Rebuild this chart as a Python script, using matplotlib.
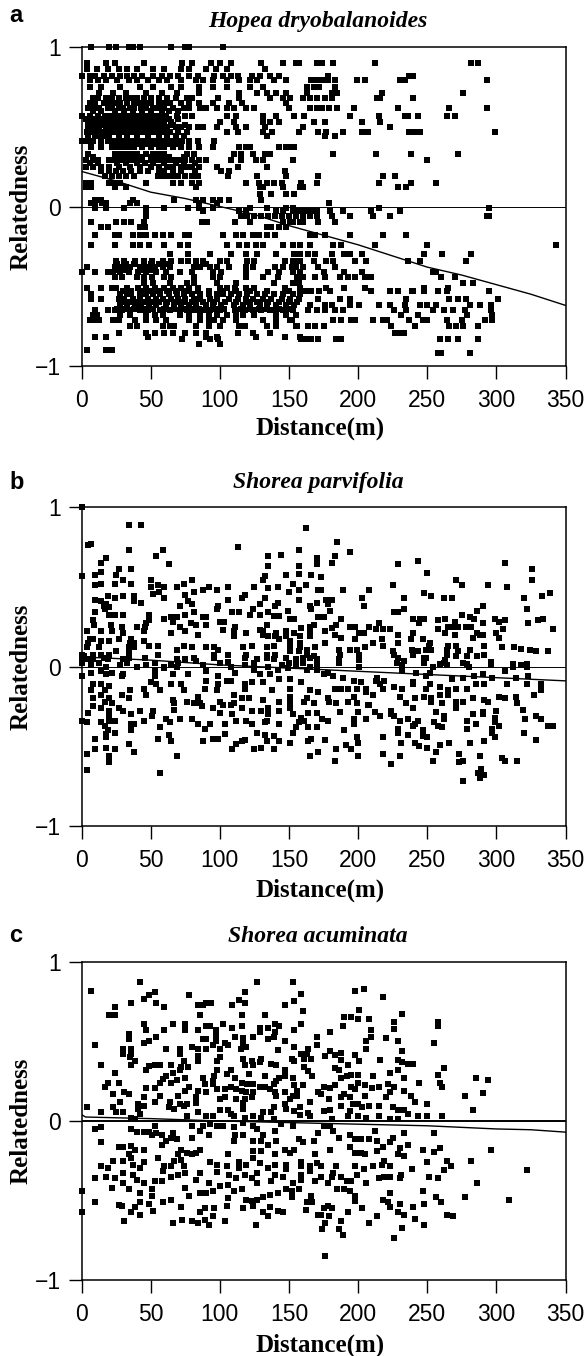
import numpy as np
import matplotlib
matplotlib.use('Agg')
from matplotlib import pyplot as plt

TITLES = ['Hopea dryobalanoides', 'Shorea parvifolia', 'Shorea acuminata']
LETTERS = ['a', 'b', 'c']
X_TICKS = [0, 50, 100, 150, 200, 250, 300, 350]
Y_TICKS = [-1, 0, 1]
Y_TICK_LABELS = ['\u22121', '0', '1']

FIT_X_A = [0, 25, 50, 75, 100, 125, 150, 175, 200, 225, 250, 275, 300, 325, 350]
FIT_Y_A = [.22, .16, .09, .05, .0, -.05, -.12, -.18, -.24, -.31, -.38, -.43, -.49, -.55, -.62]
FIT_X_B = [0, 50, 100, 150, 200, 250, 300, 350]
FIT_Y_B = [.06, .04, .01, -.01, -.03, -.05, -.07, -.09]
FIT_X_C = [0, 3, 50, 100, 150, 200, 250, 300, 325, 350]
FIT_Y_C = [.04, .025, .015, 0, -.01, -.02, -.03, -.05, -.055, -.07]

a_upper = [
    (1.0, [7, 20, 25, 34, 37, 42, 65, 75, 78, 102]),
    (.9, [4, 18, 24, 45, 73, 80, 94, 100, 108, 130, 146, 155, 157, 170, 174, 182, 212, 282, 287]),
    (.86, [4, 11, 19, 27, 33, 40, 52, 60, 72, 78, 90, 97, 105, 133]),
    (.82, [0, 6, 10, 16, 22, 28, 33, 38, 44, 52, 58, 64, 70, 78, 84, 96, 102, 108, 113, 123, 129, 136, 143, 178, 237, 240]),
    (.79, [6, 12, 18, 26, 34, 40, 48, 56, 62, 72, 83, 88, 95, 105, 114, 122, 127, 139, 148, 166, 170, 174, 178, 183, 199, 205, 230, 234, 293]),
    (.75, [6, 14, 28, 42, 52, 65, 72, 85, 95, 105, 122, 131, 163, 168, 172, 183]),
    (.71, [13, 23, 32, 47, 58, 69, 85, 114, 127, 134, 141, 148, 163, 181, 185, 217, 276]),
    (.68, [8, 12, 18, 22, 27, 32, 36, 40, 45, 50, 56, 62, 68, 76, 80, 99, 114, 136, 146, 151, 160, 165, 170, 176, 181, 214, 216, 240]),
    (.65, [6, 10, 16, 20, 24, 28, 33, 38, 42, 46, 50, 56, 60, 64, 72, 78, 85, 95, 107, 116, 148]),
    (.62, [5, 9, 13, 19, 22, 27, 30, 35, 38, 43, 47, 52, 55, 60, 66, 74, 78, 86, 90, 98, 105, 110, 119, 125, 150, 165, 170, 174, 179, 185, 197, 229, 266, 293]),
    (.6, [8, 14, 24, 31, 37, 44, 50, 58, 63, 70]),
    (.57, [0, 6, 12, 17, 21, 25, 29, 33, 37, 41, 45, 49, 53, 57, 61, 69, 75, 80, 105, 112, 131, 141, 154, 161, 194, 215, 234, 236, 243, 264, 270]),
    (.55, [3, 8, 14, 21, 25, 29, 33, 37, 41, 45, 49, 54, 58, 63, 70]),
    (.53, [5, 10, 15, 19, 23, 27, 31, 35, 39, 43, 47, 51, 56, 60, 65, 100, 110, 131, 136, 143, 168, 176, 203, 216]),
    (.51, [7, 12, 17, 21, 25, 29, 33, 37, 41, 45, 49, 53, 57, 66, 75]),
    (.5, [5, 9, 13, 18, 22, 26, 30, 34, 38, 42, 46, 50, 54, 58, 62, 68, 72, 78, 84, 88, 98, 112, 119, 133, 160, 223]),
    (.47, [4, 8, 12, 16, 20, 24, 28, 32, 36, 40, 44, 48, 52, 56, 60, 64, 70, 76, 105, 113, 131, 138, 157, 171, 177, 189, 203, 207, 237, 241, 245, 299]),
    (.44, [5, 10, 14, 18, 20, 27, 33, 40, 48, 56, 62, 68, 74, 134, 176, 183]),
    (.41, [0, 4, 8, 14, 19, 22, 26, 30, 34, 38, 42, 46, 50, 54, 58, 62, 66, 70, 73, 78, 84, 96]),
    (.39, [22, 28, 32, 36, 40, 48, 52, 58, 64, 70]),
    (.37, [7, 14, 22, 26, 30, 34, 38, 44, 50, 56, 60, 66, 72, 78, 85, 95, 114, 119, 122, 143, 148, 152, 154]),
    (.33, [5, 24, 28, 32, 36, 40, 47, 52, 56, 60, 76, 81, 110, 115, 124, 133, 136, 182, 213, 238, 272]),
    (.31, [8, 26, 34, 44, 50, 58, 63, 74]),
    (.29, [3, 8, 12, 20, 24, 30, 34, 38, 42, 50, 54, 58, 62, 66, 70, 75, 80, 85, 90, 108, 115, 126, 131, 153, 250]),
    (.27, [6, 12, 26, 32, 40, 46, 52, 60, 68, 74, 82]),
    (.25, [3, 8, 14, 20, 27, 35, 42, 50, 56, 62, 66, 72, 76, 80, 85, 98, 113, 134]),
    (.22, [14, 20, 25, 30, 36, 42, 48, 56, 60, 66, 72, 82, 101, 107, 147]),
    (.19, [17, 22, 27, 32, 38, 55, 58, 62, 66, 70, 75, 80, 84, 106, 127, 148, 171, 218, 227]),
    (.15, [3, 7, 20, 24, 28, 47, 66, 72, 80, 85, 119, 128, 134, 139, 145, 159, 170, 215, 238, 256]),
    (.12, [3, 7, 24, 32, 83, 129, 131, 146, 158, 160, 229, 235]),
    (.08, [129, 137, 148, 154]),
    (.04, [10, 13, 14, 37, 67, 83, 88, 95, 100, 107, 130]),
    (.02, [7, 10, 15, 18, 35, 40, 85, 98, 179]),
]
a_middle = [
    (-.01, [10, 18, 31, 47, 60, 77, 85, 95, 122, 134, 148, 153, 215, 295]),
    (-.03, [47, 88, 114, 119, 141, 146, 153, 157, 160, 163, 166, 170, 180, 189, 209, 230]),
    (-.06, [47, 115, 120, 125, 130, 135, 140, 145, 150, 155, 160, 165, 170, 181, 194, 211, 293, 295, 223]),
    (-.1, [7, 25, 31, 36, 45, 87, 91, 111, 122, 146, 151, 153, 158, 160, 171, 183]),
    (-.13, [19, 14, 42, 46, 134, 137, 143, 148]),
    (-.18, [10, 24, 27, 37, 42, 47, 53, 59, 65, 75, 78, 102, 112, 117, 124, 128, 134, 140, 165, 169, 176, 194, 218, 235]),
    (-.24, [7, 24, 37, 42, 49, 60, 71, 77, 105, 114, 120, 126, 131, 146, 153, 158, 165, 182, 188, 212, 250, 343]),
    (-.3, [64, 77, 93, 108, 119, 127, 141, 154, 158, 156, 164, 169, 181, 190, 194, 203, 248, 261, 282]),
    (-.34, [25, 31, 39, 45, 51, 59, 65, 72, 77, 83, 88, 100, 105, 120, 125, 147, 153, 157, 158, 168, 177, 182, 198, 206, 236, 245, 278]),
    (-.36, [26, 32, 38, 50, 56, 62, 90]),
    (-.38, [4, 24, 29, 35, 42, 47, 53, 59, 64, 81, 86, 93, 98, 107, 119, 124, 140, 146, 155, 152, 160, 171, 183]),
    (-.4, [26, 32, 44, 50]),
    (-.41, [0, 10, 19, 23, 28, 34, 41, 47, 54, 61, 71, 80, 95, 101, 119, 135, 143, 153, 158, 175, 190, 203, 256, 254]),
    (-.44, [24, 29, 40, 45, 51, 60, 65, 81, 95, 100, 119, 131, 142, 156, 160, 169, 176, 187, 193, 198, 205, 209, 270, 260]),
    (-.48, [45, 52, 64, 76, 81, 98, 112, 139, 153, 157, 283, 276]),
]
a_lower = [
    (-.51, [4, 14, 22, 25, 33, 41, 47, 53, 60, 66, 72, 78, 84, 100, 105, 111, 119, 125, 147, 158, 177, 190, 205, 248, 265]),
    (-.53, [30, 36, 44, 50, 56, 62, 68, 76, 84, 92, 102, 112, 122, 134, 150, 162, 166, 172, 180, 209, 223, 229, 240, 248, 258, 295, 239, 264]),
    (-.55, [7, 28, 33, 36, 42, 47, 52, 57, 63, 69, 74, 80, 86, 92, 98, 102, 108, 114, 120, 127, 133, 139, 146, 153, 158]),
    (-.58, [7, 14, 27, 31, 37, 42, 48, 54, 59, 65, 70, 75, 81, 86, 93, 98, 107, 113, 119, 124, 131, 137, 145, 151, 157, 171, 187, 194, 235, 266, 272, 278, 301]),
    (-.6, [30, 35, 40, 45, 50, 56, 62, 68, 74, 80, 88, 96, 104, 112, 120, 127, 135, 143, 150, 156]),
    (-.62, [28, 33, 39, 43, 49, 54, 61, 67, 72, 78, 83, 90, 95, 101, 110, 117, 122, 129, 134, 141, 148, 154, 165, 176, 181, 194, 201, 215, 223, 234, 245, 250, 256, 281, 288, 296]),
    (-.64, [26, 32, 38, 45, 52, 60, 67, 74, 80, 85, 90, 97, 103, 115, 122, 128, 134, 143, 150]),
    (-.65, [10, 19, 24, 29, 35, 42, 48, 57, 64, 71, 76, 82, 88, 93, 100, 111, 118, 124, 130, 136, 140, 146, 153, 164, 170, 176, 183, 189, 226, 235, 254, 262, 269, 277, 296]),
    (-.68, [8, 11, 28, 35, 47, 53, 59, 71, 78, 86, 92, 98, 105, 112, 117, 125, 141, 148, 155, 243, 231, 279, 297]),
    (-.71, [6, 10, 13, 23, 27, 39, 47, 54, 61, 78, 86, 92, 96, 102, 112, 131, 141, 151, 152, 182, 188, 195, 198, 211, 218, 221, 237, 247, 250, 264, 275, 292, 297]),
    (-.75, [35, 40, 59, 64, 67, 83, 92, 100, 114, 118, 134, 141, 155, 156, 164, 169, 175, 224, 241, 266, 271, 287, 276]),
    (-.79, [27, 47, 53, 60, 66, 75, 83, 90, 113, 124, 136, 227, 229, 233]),
    (-.82, [10, 18, 48, 90, 98, 126, 147, 158]),
    (-.83, [73, 93, 99, 159, 163, 166, 171, 184, 188, 259, 265, 272, 287]),
    (-.86, [85, 100]),
    (-.9, [4, 18, 22]),
    (-.92, [258, 260, 281]),
]

b_upper = [(0, 1.0), (34, .89), (43, .89), (162, .87), (5, .76), (7, .77), (113, .75), (34, .73), (59, .73),
           (157, .73), (54, .69), (144, .70), (135, .69), (18, .68), (14, .65), (63, .64), (135, .63), (170, .68),
           (170, .64), (157, .63), (27, .61), (36, .61), (14, .59), (157, .58), (10, .575), (0, .565), (25, .575),
           (148, .575), (166, .575), (133, .565), (185, .78), (194, .72), (183, .69), (181, .65), (229, .64),
           (243, .66), (306, .65), (326, .61), (250, .585), (173, .56), (326, .54), (271, .54), (10, .51), (14, .52),
           (24, .52), (30, .54), (36, .52), (50, .54), (50, .50), (55, .51), (60, .50), (69, .50), (74, .52), (80, .54),
           (92, .50), (106, .50), (88, .48), (98, .48), (81, .47), (125, .50), (131, .54), (135, .49), (142, .5),
           (153, .52), (162, .51), (171, .48), (157, .48), (150, .47), (225, .51), (275, .51), (294, .51), (308, .5),
           (173, .48), (189, .48), (208, .48), (248, .46), (253, .44), (333, .44), (339, .46), (30, .445), (52, .456),
           (56, .47), (118, .45), (116, .43), (75, .45), (19, .44), (24, .43), (38, .44), (38, .41), (60, .43), (10, .42),
           (43, .40), (133, .43), (106, .42), (77, .41), (157, .42), (170, .40), (177, .42), (181, .42), (203, .43),
           (233, .43), (262, .43), (268, .43), (320, .43), (14, .41), (18, .39), (17, .36), (20, .37), (16, .38), (71, .38),
           (80, .39), (81, .34), (99, .38), (98, .36), (129, .39), (142, .40), (140, .38), (165, .38), (166, .36),
           (124, .36), (178, .39), (204, .38), (290, .38), (322, .36), (233, .36), (226, .34), (229, .34), (286, .35),
           (180, .35), (10, .34), (20, .325), (24, .325), (30, .325), (49, .325), (109, .34), (114, .34), (75, .325),
           (122, .325), (129, .325), (135, .34), (139, .315), (143, .315), (149, .35), (175, .31), (275, .325),
           (281, .31), (284, .30), (8, .29), (9, .26), (60, .3), (65, .31), (69, .31), (66, .28), (88, .31), (90, .31),
           (100, .28), (103, .28), (49, .29), (47, .27), (79, .27), (151, .3), (154, .3), (171, .31), (168, .26),
           (188, .30), (240, .30), (245, .30), (248, .30), (244, .27), (258, .29), (263, .3), (270, .28), (290, .27),
           (299, .3), (302, .28), (306, .29), (323, .27), (330, .29), (334, .3)]
b_middle = [(21, .26), (29, .25), (40, .25), (46, .25), (71, .25), (83, .26), (90, .26), (111, .25), (134, .26), (165, .25),
            (159, .24), (184, .26), (181, .24), (194, .25), (198, .25), (208, .25), (215, .27), (213, .235), (218, .235),
            (223, .235), (258, .235), (265, .25), (269, .25), (272, .25), (278, .25), (282, .25), (305, .235), (341, .235),
            (4, .22), (14, .22), (22, .22), (30, .21), (45, .22), (65, .21), (75, .22), (102, .23), (110, .22), (119, .21),
            (131, .22), (141, .21), (148, .22), (154, .21), (165, .22), (176, .22), (183, .195), (201, .21), (204, .21),
            (229, .195), (240, .21), (263, .21), (270, .195), (286, .21), (300, .21), (84, .195), (110, .19), (129, .23),
            (131, .2), (135, .19), (140, .19), (148, .19), (158, .19), (165, .19), (188, .18), (198, .17), (217, .17),
            (238, .17), (247, .17), (283, .18), (288, .195), (290, .195), (302, .18), (8, .175), (6, .175), (14, .16),
            (5, .145), (20, .16), (27, .17), (36, .175), (45, .16), (35, .15), (38, .15), (143, .175), (151, .16), (158, .15),
            (176, .145), (211, .145), (229, .145), (252, .145), (218, .13), (251, .13), (271, .13), (265, .13), (291, .13),
            (4, .12), (13, .12), (34, .12), (38, .12), (49, .13), (55, .13), (69, .105), (74, .13), (80, .12), (90, .12),
            (96, .12), (99, .105), (117, .12), (123, .13), (134, .12), (139, .13), (151, .12), (158, .12), (163, .105),
            (169, .12), (186, .105), (194, .105), (199, .105), (205, .12), (225, .095), (239, .105), (243, .095), (249, .105),
            (253, .105), (264, .105), (272, .095), (281, .105), (304, .12), (313, .12), (318, .11), (324, .105), (329, .095),
            (337, .095), (0, .075), (2, .065), (8, .075), (14, .075), (20, .075), (25, .095), (34, .085), (55, .07), (96, .075),
            (96, .055), (106, .07), (119, .075), (134, .075), (140, .075), (151, .095), (157, .095), (163, .075), (168, .065),
            (187, .075), (201, .075), (226, .075), (240, .075), (249, .055), (264, .075), (271, .065), (279, .065), (286, .065),
            (291, .07), (0, .045), (5, .045), (8, .05), (16, .055), (19, .045), (30, .045), (34, .055), (46, .055), (69, .045),
            (75, .045), (81, .055), (83, .033), (106, .027), (118, .055), (127, .045), (134, .055), (139, .045), (148, .055),
            (155, .045), (160, .055), (165, .055), (170, .045), (186, .045), (201, .04), (229, .055), (233, .033), (248, .055),
            (263, .04), (296, .027), (312, .017), (322, .017), (279, .017), (259, .017), (0, .02), (7, .01), (13, .02), (18, .0),
            (28, .01), (33, .02), (47, .01), (53, .02), (60, .0), (65, .01), (70, .02), (88, .01), (100, .02), (108, 0), (118, .01),
            (125, .02), (135, .0), (145, .01), (150, .02), (155, .01), (160, .02), (165, .0), (170, .01), (186, .02), (201, .0),
            (228, .02), (232, .01), (248, .02), (254, 0), (262, .02), (264, .01), (276, .02), (280, .0), (296, .01), (312, 0),
            (318, .01), (322, 0)]
b_lower = [(7, -.04), (14, -.03), (18, -.05), (22, -.04), (30, -.05), (40, 0), (53, -.03), (60, -.01), (66, -.05), (69, 0), (77, -.05),
           (90, -.03), (99, -.06), (111, -.04), (125, -.02), (129, -.05), (136, -.05), (142, -.02), (149, -.01), (163, -.02), (170, -.02),
           (175, -.05), (178, -.04), (182, -.06), (189, -.07), (197, -.09), (202, -.1), (214, -.07), (219, -.09), (232, -.02), (240, -.1),
           (242, -.04), (249, -.06), (252, -.04), (268, -.08), (276, -.07), (284, -.06), (290, -.05), (297, -.07), (306, -.03), (314, -.07),
           (323, -.06), (0, -.06), (29, -.06), (53, -.06), (90, -.09), (99, -.11), (105, -.09), (108, -.09), (118, -.11), (123, -.1), (131, -.1),
           (8, -.11), (14, -.11), (20, -.12), (50, -.1), (54, -.11), (65, -.11), (72, -.11), (151, -.08), (143, -.08), (159, -.1), (213, -.09),
           (216, -.11), (240, -.11), (252, -.11), (285, -.11), (291, -.11), (308, -.11), (322, -.11), (332, -.11), (7, -.15), (17, -.15), (35, -.15),
           (45, -.14), (57, -.15), (74, -.15), (89, -.14), (98, -.15), (118, -.14), (138, -.15), (151, -.14), (165, -.15), (171, -.16), (183, -.14),
           (188, -.14), (193, -.14), (199, -.14), (206, -.14), (218, -.14), (226, -.13), (232, -.14), (249, -.14), (259, -.13), (265, -.15), (271, -.14),
           (279, -.14), (332, -.15), (8, -.2), (14, -.18), (20, -.2), (29, -.18), (34, -.2), (47, -.18), (66, -.21), (84, -.19), (110, -.18), (116, -.2),
           (121, -.2), (131, -.21), (151, -.19), (163, -.2), (178, -.2), (197, -.19), (206, -.16), (211, -.18), (230, -.19), (241, -.2), (248, -.19),
           (253, -.2), (259, -.18), (265, -.18), (283, -.2), (302, -.19), (306, -.2), (314, -.19), (327, -.18), (17, -.22), (22, -.23), (67, -.23),
           (76, -.22), (81, -.23), (86, -.23), (100, -.22), (102, -.24), (110, -.23), (143, -.22), (151, -.22), (161, -.22), (168, -.23), (179, -.22),
           (184, -.23), (193, -.22), (199, -.23), (208, -.24), (235, -.23), (253, -.22), (261, -.23), (271, -.22), (276, -.22), (291, -.21), (315, -.23),
           (8, -.25), (14, -.26), (20, -.28), (27, -.26), (30, -.28), (42, -.28), (67, -.27), (87, -.25), (95, -.26), (100, -.29), (108, -.24), (116, -.26),
           (123, -.28), (130, -.28), (135, -.26), (143, -.28), (151, -.26), (164, -.29), (170, -.29), (187, -.285), (200, -.285), (207, -.24), (212, -.285),
           (224, -.28), (240, -.26), (256, -.285), (271, -.26), (290, -.285), (294, -.22), (300, -.28), (319, -.275), (5, -.29), (20, -.31), (36, -.3),
           (52, -.28), (51, -.31), (109, -.3), (135, -.3), (153, -.3), (159, -.32), (174, -.33), (178, -.34), (197, -.33), (206, -.33), (216, -.31), (224, -.3),
           (226, -.31), (230, -.34), (236, -.33), (243, -.34), (262, -.31), (262, -.33), (283, -.3), (290, -.3), (299, -.32), (321, -.33), (329, -.31), (332, -.33),
           (0, -.34), (4, -.35), (14, -.35), (20, -.34), (24, -.34), (45, -.34), (61, -.33), (64, -.35), (71, -.33), (80, -.33), (112, -.34), (119, -.34), (123, -.36),
           (134, -.34), (133, -.35), (143, -.36), (157, -.35), (161, -.34), (197, -.36), (241, -.36), (255, -.35), (258, -.37), (261, -.38), (279, -.34), (285, -.36),
           (299, -.35), (302, -.37), (337, -.37), (341, -.37), (17, -.37), (19, -.4), (36, -.36), (38, -.36), (36, -.4), (57, -.38), (84, -.36), (93, -.36), (89, -.39),
           (104, -.36), (127, -.42), (155, -.38), (153, -.42), (164, -.38), (170, -.38), (190, -.4), (229, -.39), (229, -.42), (240, -.37), (247, -.4), (279, -.39),
           (297, -.39), (297, -.42), (320, -.42), (18, -.425), (18, -.445), (24, -.42), (63, -.43), (65, -.465), (55, -.455), (10, -.455), (88, -.465), (95, -.455),
           (99, -.455), (104, -.425), (118, -.46), (133, -.43), (134, -.465), (139, -.435), (143, -.465), (151, -.48), (164, -.465), (166, -.455), (176, -.46),
           (199, -.445), (218, -.445), (236, -.43), (247, -.435), (250, -.445), (200, -.48), (281, -.48), (291, -.47), (299, -.445), (329, -.46), (34, -.485),
           (112, -.485), (116, -.47), (130, -.51), (125, -.52), (18, -.51), (10, -.52), (24, -.52), (38, -.535), (109, -.52), (139, -.52), (184, -.52), (191, -.495),
           (195, -.52), (231, -.48), (241, -.48), (244, -.5), (250, -.51), (259, -.495), (266, -.48), (256, -.535), (4, -.55), (20, -.56), (20, -.6), (69, -.56),
           (165, -.56), (171, -.535), (183, -.59), (200, -.56), (218, -.55), (230, -.56), (254, -.59), (273, -.55), (273, -.6), (276, -.59), (288, -.56), (304, -.575),
           (306, -.59), (315, -.59), (4, -.65), (57, -.665), (224, -.61), (289, -.64), (287, -.665), (291, -.68), (288, -.7), (276, -.72)]

c_upper = [(7, .82), (42, .875), (127, .875), (153, .875), (53, .81), (49, .79), (45, .77), (78, .795), (118, .81), (159, .8), (36, .74), (54, .74),
           (60, .72), (84, .73), (88, .73), (90, .74), (94, .745), (109, .73), (114, .76), (118, .74), (147, .73), (154, .755), (24, .72), (20, .665), (24, .665),
           (86, .665), (116, .665), (133, .665), (160, .69), (45, .61), (66, .61), (75, .61), (90, .595), (93, .595), (102, .61), (109, .585), (116, .595),
           (129, .585), (135, .585), (140, .61), (143, .595), (159, .61), (47, .575), (75, .575), (60, .575), (84, .575), (97, .57), (129, .56), (140, .56),
           (154, .575), (34, .55), (54, .53), (97, .54), (111, .53), (117, .52), (124, .53), (34, .515), (45, .49), (49, .505), (88, .515), (90, .515), (97, .505),
           (135, .515), (139, .53), (147, .505), (170, .53), (170, .48), (10, .48), (104, .49), (106, .48), (95, .48), (117, .485), (30, .455), (36, .455), (61, .455),
           (71, .455), (80, .465), (84, .455), (90, .455), (100, .455), (115, .455), (119, .465), (142, .445), (154, .465), (164, .455), (30, .42), (36, .42), (71, .42),
           (84, .41), (100, .4), (159, .42), (163, .42), (39, .38), (35, .4), (74, .38), (84, .38), (98, .38), (117, .39), (123, .38), (130, .39), (152, .39), (161, .39),
           (166, .39), (14, .35), (36, .35), (49, .345), (53, .35), (57, .35), (65, .35), (72, .34), (77, .34), (118, .35), (124, .35), (129, .37), (137, .36), (141, .35),
           (161, .34), (154, .38), (198, .82), (204, .83), (218, .78), (201, .7), (232, .675), (190, .655), (195, .655), (200, .64), (208, .64), (226, .62), (226, .58),
           (258, .62), (258, .595), (189, .595), (180, .56), (209, .57), (209, .53), (206, .505), (220, .52), (229, .505), (255, .49), (206, .455), (232, .44), (180, .44),
           (176, .41), (188, .425), (183, .415), (188, .385), (198, .415), (201, .375), (216, .385), (229, .385), (232, .37), (236, .36), (240, .36), (193, .35), (183, .335),
           (186, .32), (262, .335)]
c_middle = [(47, .32), (24, .305), (66, .305), (71, .32), (98, .32), (108, .32), (121, .295), (147, .32), (164, .315), (61, .28), (59, .265), (57, .24), (69, .255), (65, .24),
            (75, .27), (88, .27), (96, .28), (95, .25), (105, .295), (111, .27), (133, .285), (143, .27), (147, .285), (153, .27), (167, .28), (19, .24), (27, .24), (17, .215),
            (89, .23), (95, .23), (116, .24), (120, .23), (124, .23), (129, .215), (133, .215), (139, .23), (141, .25), (154, .225), (160, .225), (47, .205), (53, .205), (23, .17),
            (31, .18), (34, .17), (78, .215), (75, .19), (84, .19), (90, .18), (98, .2), (104, .2), (108, .215), (112, .2), (116, .19), (119, .18), (124, .18), (136, .2), (140, .18),
            (147, .18), (153, .16), (156, .19), (171, .18), (45, .15), (57, .16), (70, .16), (83, .15), (100, .14), (104, .15), (112, .14), (118, .14), (123, .15), (141, .16), (156, .16),
            (151, .14), (28, .12), (41, .11), (53, .12), (64, .12), (71, .105), (76, .11), (83, .115), (117, .115), (147, .11), (165, .12), (4, .085), (23, .085), (45, .095), (41, .075),
            (63, .085), (67, .075), (74, .095), (100, .07), (106, .07), (117, .075), (139, .085), (148, .075), (158, .085), (14, .055), (25, .055), (30, .055), (42, .045), (84, .055),
            (108, .045), (131, .055), (137, .055), (154, .065), (164, .05), (36, .02), (76, .03), (90, .03), (95, .03), (110, .03), (118, .02), (124, .03), (130, .02), (139, .015), (158, .04),
            (165, .03), (223, .305), (229, .32), (200, .29), (195, .29), (211, .28), (192, .28), (188, .27), (233, .27), (258, .29), (285, .27), (294, .255), (200, .24), (244, .24), (259, .24),
            (261, .215), (222, .23), (205, .225), (210, .205), (215, .215), (226, .215), (183, .225), (175, .215), (180, .205), (195, .215), (198, .2), (233, .19), (190, .17), (205, .16),
            (223, .18), (220, .15), (238, .16), (277, .16), (290, .175), (173, .17), (188, .15), (194, .15), (179, .14), (200, .11), (241, .12), (250, .11), (208, .095), (215, .095), (188, .095),
            (196, .11), (203, .085), (225, .085), (229, .07), (233, .07), (283, .07), (180, .07), (175, .065), (194, .065), (236, .045), (200, .03), (215, .03), (243, .03), (250, .03), (261, .03),
            (193, .03), (206, .02), (223, .015), (229, .015), (181, .015)]
c_lower = [(10, -.05), (14, -.04), (14, -.13), (36, -.05), (39, .01), (40, -.07), (45, -.07), (51, -.085), (54, -.075), (53, -.03), (49, -.07), (58, -.085), (66, -.075), (65, -.105), (69, -.115),
           (61, -.125), (58, -.15), (80, -.03), (80, -.105), (86, -.065), (92, -.085), (88, -.03), (93, -.02), (98, -.03), (102, -.03), (110, -.04), (110, -.125), (111, -.085), (117, -.085), (117, -.01),
           (124, -.03), (127, -.05), (131, -.085), (124, -.125), (130, -.125), (135, -.15), (140, -.065), (141, -.125), (144, -.02), (153, -.03), (157, -.115), (160, -.135), (168, -.125), (171, -.075),
           (27, -.165), (30, -.165), (36, -.16), (39, -.18), (45, -.18), (34, -.21), (36, -.23), (55, -.23), (72, -.18), (76, -.2), (70, -.21), (80, -.21), (83, -.2), (86, -.18), (106, -.21), (124, -.19),
           (130, -.19), (124, -.23), (147, -.185), (151, -.2), (154, -.18), (140, -.21), (169, -.205), (14, -.285), (19, -.295), (23, -.25), (30, -.25), (37, -.275), (42, -.295), (45, -.26), (67, -.25),
           (65, -.285), (72, -.245), (74, -.285), (60, -.285), (59, -.315), (93, -.255), (98, -.275), (105, -.285), (114, -.26), (119, -.275), (114, -.295), (129, -.265), (135, -.295), (140, -.275), (148, -.275),
           (148, -.305), (159, -.255), (159, -.285), (165, -.285), (165, -.315), (170, -.265), (10, -.36), (18, -.35), (24, -.36), (30, -.33), (37, -.34), (40, -.37), (45, -.39), (30, -.39), (53, -.38), (58, -.375),
           (65, -.35), (70, -.34), (75, -.33), (86, -.33), (83, -.37), (92, -.39), (98, -.32), (107, -.34), (112, -.36), (118, -.34), (123, -.36), (127, -.33), (127, -.39), (140, -.34), (137, -.38), (146, -.35),
           (153, -.39), (159, -.37), (169, -.38), (159, -.34), (22, -.42), (34, -.43), (42, -.455), (51, -.43), (51, -.47), (75, -.42), (78, -.47), (86, -.455), (90, -.455), (95, -.44), (100, -.41), (106, -.405),
           (110, -.44), (116, -.43), (142, -.455), (148, -.43), (152, -.44), (157, -.43), (152, -.475), (131, -.475), (136, -.465), (166, -.47), (10, -.51), (27, -.53), (29, -.535), (42, -.51), (39, -.54), (49, -.52),
           (59, -.51), (65, -.495), (72, -.54), (106, -.485), (105, -.535), (119, -.495), (123, -.5), (127, -.495), (117, -.545), (124, -.535), (136, -.54), (163, -.51), (167, -.51), (162, -.56), (96, -.55), (89, -.55),
           (0, -.44), (0, -.575), (36, -.575), (42, -.59), (52, -.565), (86, -.575), (95, -.6), (89, -.62), (131, -.575), (135, -.6), (142, -.565), (146, -.575), (171, -.59), (31, -.63), (66, -.64), (73, -.62), (80, -.63),
           (84, -.64), (92, -.655), (104, -.63), (126, -.655)]
c_right = [(175, -.03), (180, -.03), (182, -.06), (186, -.105), (194, -.085), (198, -.115), (202, -.115), (208, -.115), (214, -.125), (212, -.065), (225, -.105), (223, -.135), (218, -.165), (233, -.075), (255, -.075),
           (230, -.17), (236, -.15), (180, -.18), (194, -.165), (198, -.2), (202, -.2), (205, -.205), (214, -.19), (229, -.205), (233, -.22), (247, -.18), (255, -.195), (259, -.17), (296, -.18), (250, -.255), (264, -.25),
           (282, -.25), (267, -.285), (262, -.31), (322, -.31), (239, -.3), (219, -.25), (217, -.275), (223, -.285), (211, -.285), (198, -.285), (184, -.285), (173, -.285), (204, -.3), (231, -.34), (230, -.36), (223, -.35),
           (219, -.35), (215, -.36), (199, -.34), (182, -.33), (181, -.35), (173, -.35), (178, -.39), (188, -.35), (192, -.375), (195, -.375), (206, -.39), (251, -.35), (258, -.36), (286, -.39), (185, -.43), (190, -.43),
           (194, -.44), (198, -.47), (198, -.505), (223, -.455), (247, -.44), (218, -.495), (222, -.51), (223, -.54), (230, -.525), (240, -.54), (248, -.525), (256, -.48), (260, -.51), (277, -.48), (309, -.495), (203, -.55),
           (178, -.535), (175, -.545), (181, -.55), (193, -.575), (229, -.575), (233, -.59), (214, -.6), (264, -.59), (269, -.6), (179, -.6), (173, -.59), (176, -.64), (188, -.63), (208, -.64), (241, -.615), (248, -.655),
           (232, -.67), (174, -.68), (186, -.68), (189, -.72), (226, -.735), (176, -.85)]


def expand_rows(*groups):
    pts = [(x, y) for rows in groups for y, xs in rows for x in xs]
    return np.array(pts, dtype=float).T


def expand_points(*groups):
    return np.array([p for g in groups for p in g], dtype=float).T


plt.rcParams['font.family'] = ['Liberation Sans', 'DejaVu Sans']

FIG_W, FIG_H = 584, 1356
fig = plt.figure(figsize=(FIG_W / 100, FIG_H / 100), dpi=100)

# pixel rows of each panel: top, bottom, title y, xlabel y, letter y
panels = [(47, 366, 22, 428, 15),
          (507, 826, 483, 890, 482),
          (962, 1280, 936, 1345, 936)]
data = [expand_rows(a_upper, a_middle, a_lower),
        expand_points(b_upper, b_middle, b_lower),
        expand_points(c_upper, c_middle, c_lower, c_right)]
fits = [(FIT_X_A, FIT_Y_A), (FIT_X_B, FIT_Y_B), (FIT_X_C, FIT_Y_C)]
zero_lw = [0.7, 0.7, 1.4]

for i, (top, bottom, title_y, xlabel_y, letter_y) in enumerate(panels):
    ax = fig.add_axes([81.5 / FIG_W, 1 - bottom / FIG_H, 484 / FIG_W, (bottom - top) / FIG_H])
    ax.set_xlim(0, 350)
    ax.set_ylim(-1, 1)
    x, y = data[i]
    ax.scatter(x, y, s=22, marker='s', color='black', linewidths=0, clip_on=False, zorder=3)
    ax.axhline(0, color='black', lw=zero_lw[i], zorder=2)
    ax.plot(fits[i][0], fits[i][1], color='black', lw=1.0, zorder=2)
    ax.set_xticks(X_TICKS)
    ax.set_yticks(Y_TICKS)
    ax.set_yticklabels(Y_TICK_LABELS)
    ax.tick_params(axis='both', length=9.5, width=1.0, labelsize=16.5, color='black')
    ax.tick_params(axis='x', pad=7)
    ax.tick_params(axis='y', pad=5)
    for spine in ax.spines.values():
        spine.set_linewidth(1.1)
    fig.text(318 / FIG_W, 1 - title_y / FIG_H, TITLES[i], family='Liberation Serif', style='italic',
             weight='bold', fontsize=17, ha='center', va='center')
    fig.text(320 / FIG_W, 1 - xlabel_y / FIG_H, 'Distance(m)', family='Liberation Serif',
             weight='bold', fontsize=18, ha='center', va='center')
    fig.text(21 / FIG_W, 1 - (top + bottom) / 2 / FIG_H, 'Relatedness', family='Liberation Serif',
             weight='bold', fontsize=18, rotation=90, ha='center', va='center')
    fig.text(9 / FIG_W, 1 - letter_y / FIG_H, LETTERS[i], weight='bold', fontsize=17, ha='left', va='center')

fig.savefig('out.png', dpi=100)
